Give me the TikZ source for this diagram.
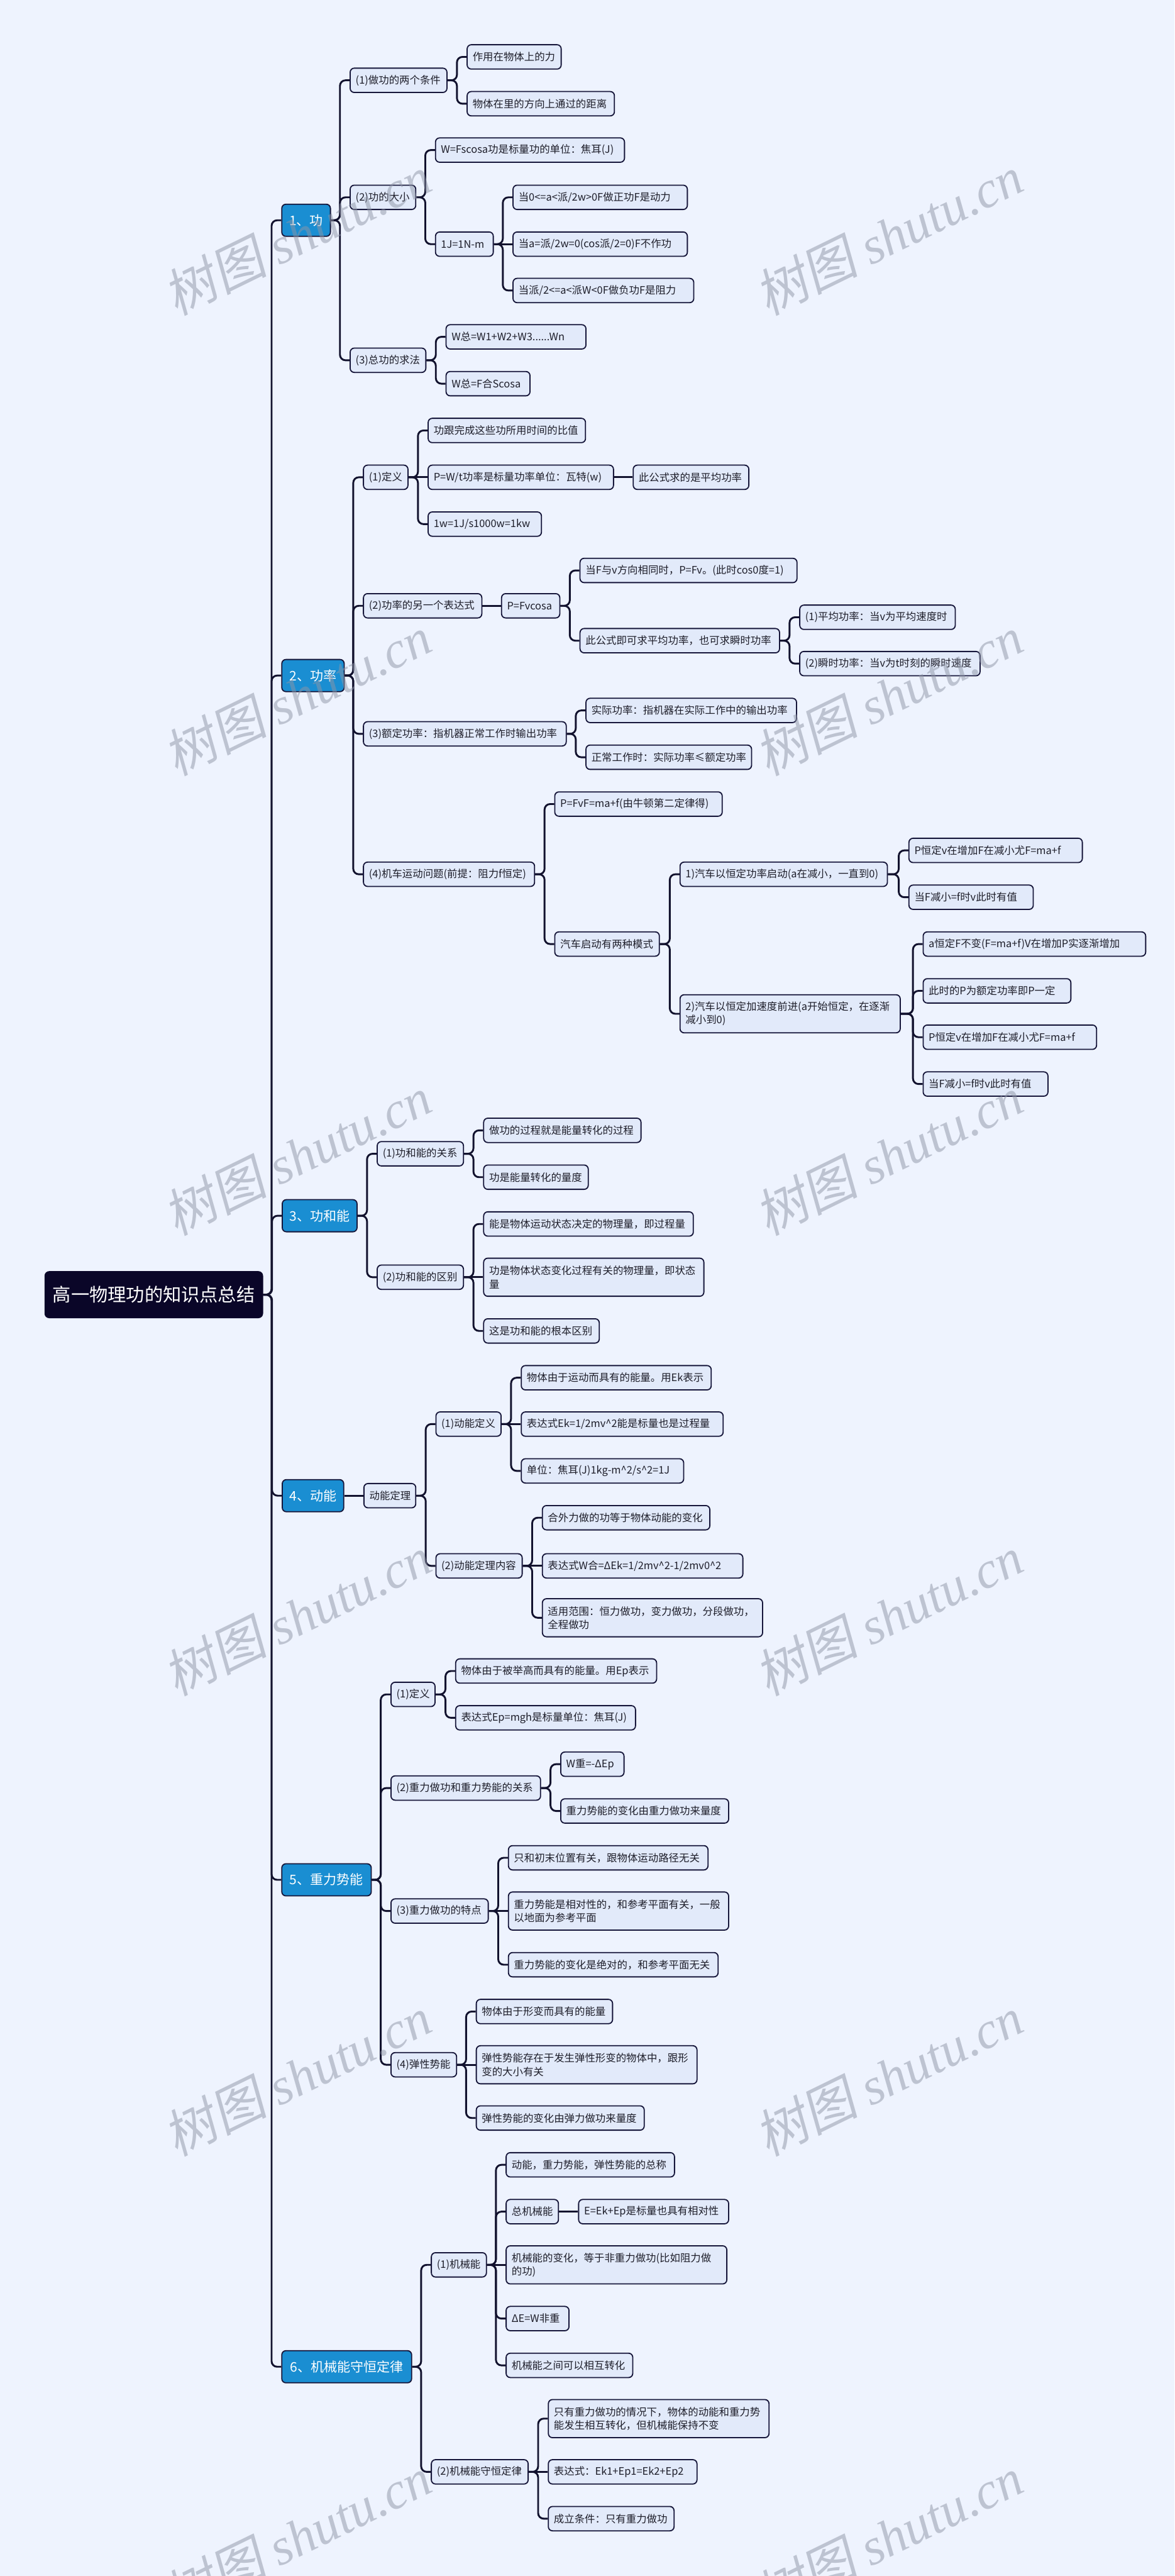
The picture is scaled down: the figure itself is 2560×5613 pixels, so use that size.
\documentclass[tikz,border=0pt]{standalone}
\usepackage{fontspec}
\setmainfont{Noto Sans CJK SC}
\newfontfamily\wmcjk{Noto Sans CJK SC}[FakeSlant=0.18]
\newfontfamily\wmlat{Liberation Serif}
\usetikzlibrary{calc}
\newlength\pxu \setlength\pxu{0.1mm}
\definecolor{bgc}{HTML}{EEF3FE}
\definecolor{lfc}{HTML}{E2EAFA}
\definecolor{bdc}{HTML}{16163A}
\definecolor{lnc}{HTML}{12122E}
\definecolor{mbc}{HTML}{1A8ED2}
\definecolor{rtc}{HTML}{0A0628}
\definecolor{txc}{HTML}{1E1E2A}
\definecolor{wmc}{HTML}{8E95A6}
\tikzset{
  leafst/.style={draw=bdc, line width=0.25mm, fill=lfc, rounded corners=0.9mm, anchor=west,
    inner xsep=1.2mm, inner ysep=0pt, minimum height=5.3mm, text=txc, align=left,
    font=\fontsize{6.4}{8.3}\selectfont},
  mainst/.style={draw=bdc, line width=0.25mm, fill=mbc, rounded corners=0.9mm, anchor=west,
    inner sep=0pt, minimum height=7mm, text=white, font=\fontsize{8.2}{10}\selectfont},
  rootst/.style={draw=rtc, line width=0.25mm, fill=rtc, rounded corners=0.9mm, anchor=west,
    inner sep=0pt, minimum height=10mm, text=white, font=\fontsize{11.4}{13}\selectfont},
  conn/.style={draw=lnc, line width=0.4mm, rounded corners=1.2mm},
  wmst/.style={rotate=26, text=wmc, opacity=0.5, inner sep=0pt, font=\fontsize{32}{32}\selectfont}
}
\newcommand\leaf[5]{\node[leafst] (#1) at (#2,#3) {\makebox[\dimexpr#4\pxu-24\pxu\relax][l]{#5}};}
\newcommand\leafii[6]{\node[leafst, minimum height=8.3mm] (#1) at (#2,#3) {\makebox[\dimexpr#4\pxu-24\pxu\relax][l]{#5}\\#6};}
\newcommand\mainnode[5]{\node[mainst, minimum width=#4\pxu] (#1) at (#2,#3) {#5};}
\newcommand\cn[2]{\draw[conn] (#1.east) -| ($(#2.west)+(-21,0)$) -- (#2.west);}
\newcommand\st[2]{\draw[conn] (#1.east) -- (#2.west);}
\begin{document}
\begin{tikzpicture}[x=0.1mm, y=-0.1mm]
\fill[bgc] (0,0) rectangle (2560,5613);
\useasboundingbox (0,0) rectangle (2560,5613);

\node[rootst, minimum width=474\pxu] (root) at (97,2821) {高一物理功的知识点总结};

% Section 1
\mainnode{m1}{613}{480}{106}{1、功}
\leaf{a1}{762}{175}{211}{(1)做功的两个条件}
\leaf{a1a}{1017}{124}{205}{作用在物体上的力}
\leaf{a1b}{1017}{226}{321}{物体在里的方向上通过的距离}
\leaf{a2}{762}{430}{143}{(2)功的大小}
\leaf{a2a}{948}{327}{412}{W=Fscosa功是标量功的单位：焦耳(J)}
\leaf{a2b}{948}{532}{126}{1J=1N-m}
\leaf{a2b1}{1117}{430}{380}{当0<=a<派/2w>0F做正功F是动力}
\leaf{a2b2}{1117}{532}{380}{当a=派/2w=0(cos派/2=0)F不作功}
\leaf{a2b3}{1117}{633}{394}{当派/2<=a<派W<0F做负功F是阻力}
\leaf{a3}{762}{785}{165}{(3)总功的求法}
\leaf{a3a}{971}{734}{305}{W总=W1+W2+W3......Wn}
\leaf{a3b}{971}{836}{183}{W总=F合Scosa}

% Section 2
\mainnode{m2}{613}{1472}{136}{2、功率}
\leaf{b1}{791}{1040}{97}{(1)定义}
\leaf{b1a}{932}{938}{343}{功跟完成这些功所用时间的比值}
\leaf{b1b}{932}{1040}{404}{P=W/t功率是标量功率单位：瓦特(w)}
\leaf{b1b1}{1379}{1040}{252}{此公式求的是平均功率}
\leaf{b1c}{932}{1142}{247}{1w=1J/s1000w=1kw}
\leaf{b2}{791}{1320}{258}{(2)功率的另一个表达式}
\leaf{b2a}{1092}{1320}{127}{P=Fvcosa}
\leaf{b2a1}{1263}{1243}{473}{当F与v方向相同时，P=Fv。(此时cos0度=1)}
\leaf{b2a2}{1263}{1396}{435}{此公式即可求平均功率，也可求瞬时功率}
\leaf{b2a2a}{1742}{1345}{339}{(1)平均功率：当v为平均速度时}
\leaf{b2a2b}{1742}{1446}{393}{(2)瞬时功率：当v为t时刻的瞬时速度}
\leaf{b3}{791}{1599}{442}{(3)额定功率：指机器正常工作时输出功率}
\leaf{b3a}{1276}{1548}{459}{实际功率：指机器在实际工作中的输出功率}
\leaf{b3b}{1276}{1650}{361}{正常工作时：实际功率≤额定功率}
\leaf{b4}{791}{1905}{373}{(4)机车运动问题(前提：阻力f恒定)}
\leaf{b4a}{1208}{1752}{365}{P=FvF=ma+f(由牛顿第二定律得)}
\leaf{b4b}{1208}{2057}{228}{汽车启动有两种模式}
\leaf{b4b1}{1481}{1905}{452}{1)汽车以恒定功率启动(a在减小，一直到0)}
\leaf{b4b1a}{1980}{1853}{378}{P恒定v在增加F在减小尤F=ma+f}
\leaf{b4b1b}{1980}{1955}{271}{当F减小=f时v此时有值}
\leafii{b4b2}{1481}{2209}{480}{2)汽车以恒定加速度前进(a开始恒定，在逐渐}{减小到0)}
\leaf{b4b2a}{2011}{2057}{485}{a恒定F不变(F=ma+f)V在增加P实逐渐增加}
\leaf{b4b2b}{2011}{2159}{322}{此时的P为额定功率即P一定}
\leaf{b4b2c}{2011}{2260}{378}{P恒定v在增加F在减小尤F=ma+f}
\leaf{b4b2d}{2011}{2362}{272}{当F减小=f时v此时有值}

% Section 3
\mainnode{m3}{614}{2649}{163}{3、功和能}
\leaf{c1}{821}{2514}{188}{(1)功和能的关系}
\leaf{c1a}{1053}{2463}{343}{做功的过程就是能量转化的过程}
\leaf{c1b}{1053}{2565}{228}{功是能量转化的量度}
\leaf{c2}{821}{2783}{188}{(2)功和能的区别}
\leaf{c2a}{1053}{2667}{457}{能是物体运动状态决定的物理量，即过程量}
\leafii{c2b}{1053}{2783}{480}{功是物体状态变化过程有关的物理量，即状态}{量}
\leaf{c2c}{1053}{2900}{252}{这是功和能的根本区别}

% Section 4
\mainnode{m4}{614}{3259}{134}{4、动能}
\leaf{d0}{792}{3259}{113}{动能定理}
\leaf{d1}{949}{3103}{142}{(1)动能定义}
\leaf{d1a}{1135}{3002}{414}{物体由于运动而具有的能量。用Ek表示}
\leaf{d1b}{1135}{3103}{440}{表达式Ek=1/2mv\textasciicircum2能是标量也是过程量}
\leaf{d1c}{1135}{3205}{354}{单位：焦耳(J)1kg-m\textasciicircum2/s\textasciicircum2=1J}
\leaf{d2}{949}{3412}{188}{(2)动能定理内容}
\leaf{d2a}{1181}{3307}{365}{合外力做的功等于物体动能的变化}
\leaf{d2b}{1181}{3412}{437}{表达式W合=ΔEk=1/2mv\textasciicircum2-1/2mv0\textasciicircum2}
\leafii{d2c}{1181}{3525}{480}{适用范围：恒力做功，变力做功，分段做功，}{全程做功}

% Section 5
\mainnode{m5}{613}{4096}{195}{5、重力势能}
\leaf{e1}{851}{3692}{96}{(1)定义}
\leaf{e1a}{992}{3641}{438}{物体由于被举高而具有的能量。用Ep表示}
\leaf{e1b}{992}{3743}{392}{表达式Ep=mgh是标量单位：焦耳(J)}
\leaf{e2}{851}{3896}{326}{(2)重力做功和重力势能的关系}
\leaf{e2a}{1221}{3844}{138}{W重=-ΔEp}
\leaf{e2b}{1221}{3946}{366}{重力势能的变化由重力做功来量度}
\leaf{e3}{851}{4164}{212}{(3)重力做功的特点}
\leaf{e3a}{1107}{4048}{435}{只和初末位置有关，跟物体运动路径无关}
\leafii{e3b}{1107}{4164}{480}{重力势能是相对性的，和参考平面有关，一般}{以地面为参考平面}
\leaf{e3c}{1107}{4281}{457}{重力势能的变化是绝对的，和参考平面无关}
\leaf{e4}{851}{4499}{143}{(4)弹性势能}
\leaf{e4a}{1037}{4383}{297}{物体由于形变而具有的能量}
\leafii{e4b}{1037}{4499}{481}{弹性势能存在于发生弹性形变的物体中，跟形}{变的大小有关}
\leaf{e4c}{1037}{4615}{366}{弹性势能的变化由弹力做功来量度}

% Section 6
\mainnode{m6}{613}{5157}{283}{6、机械能守恒定律}
\leaf{f1}{939}{4935}{120}{(1)机械能}
\leaf{f1a}{1102}{4717}{367}{动能，重力势能，弹性势能的总称}
\leaf{f1b}{1102}{4819}{114}{总机械能}
\leaf{f1b1}{1260}{4819}{327}{E=Ek+Ep是标量也具有相对性}
\leafii{f1c}{1102}{4935}{481}{机械能的变化，等于非重力做功(比如阻力做}{的功)}
\leaf{f1d}{1102}{5052}{137}{ΔE=W非重}
\leaf{f1e}{1102}{5154}{276}{机械能之间可以相互转化}
\leaf{f2}{939}{5386}{211}{(2)机械能守恒定律}
\leafii{f2a}{1194}{5270}{481}{只有重力做功的情况下，物体的动能和重力势}{能发生相互转化，但机械能保持不变}
\leaf{f2b}{1194}{5386}{324}{表达式：Ek1+Ep1=Ek2+Ep2}
\leaf{f2c}{1194}{5488}{274}{成立条件：只有重力做功}

% Connectors
\cn{root}{m1} \cn{root}{m2} \cn{root}{m3} \cn{root}{m4} \cn{root}{m5} \cn{root}{m6}
\cn{m1}{a1} \cn{m1}{a2} \cn{m1}{a3}
\cn{a1}{a1a} \cn{a1}{a1b}
\cn{a2}{a2a} \cn{a2}{a2b}
\cn{a2b}{a2b1} \st{a2b}{a2b2} \cn{a2b}{a2b3}
\cn{a3}{a3a} \cn{a3}{a3b}

\cn{m2}{b1} \cn{m2}{b2} \cn{m2}{b3} \cn{m2}{b4}
\cn{b1}{b1a} \st{b1}{b1b} \cn{b1}{b1c} \st{b1b}{b1b1}
\st{b2}{b2a} \cn{b2a}{b2a1} \cn{b2a}{b2a2}
\cn{b2a2}{b2a2a} \cn{b2a2}{b2a2b}
\cn{b3}{b3a} \cn{b3}{b3b}
\cn{b4}{b4a} \cn{b4}{b4b}
\cn{b4b}{b4b1} \cn{b4b}{b4b2}
\cn{b4b1}{b4b1a} \cn{b4b1}{b4b1b}
\cn{b4b2}{b4b2a} \cn{b4b2}{b4b2b} \cn{b4b2}{b4b2c} \cn{b4b2}{b4b2d}

\cn{m3}{c1} \cn{m3}{c2}
\cn{c1}{c1a} \cn{c1}{c1b}
\cn{c2}{c2a} \st{c2}{c2b} \cn{c2}{c2c}

\st{m4}{d0}
\cn{d0}{d1} \cn{d0}{d2}
\cn{d1}{d1a} \st{d1}{d1b} \cn{d1}{d1c}
\cn{d2}{d2a} \st{d2}{d2b} \cn{d2}{d2c}

\cn{m5}{e1} \cn{m5}{e2} \cn{m5}{e3} \cn{m5}{e4}
\cn{e1}{e1a} \cn{e1}{e1b}
\cn{e2}{e2a} \cn{e2}{e2b}
\cn{e3}{e3a} \st{e3}{e3b} \cn{e3}{e3c}
\cn{e4}{e4a} \st{e4}{e4b} \cn{e4}{e4c}

\cn{m6}{f1} \cn{m6}{f2}
\cn{f1}{f1a} \cn{f1}{f1b} \st{f1}{f1c} \cn{f1}{f1d} \cn{f1}{f1e}
\st{f1b}{f1b1}
\cn{f2}{f2a} \st{f2}{f2b} \cn{f2}{f2c}

% Watermarks
\foreach \wx in {648,1937} {
  \foreach \wy in {512,1515,2518,3521,4524,5527} {
    \node[wmst] (wm-\wx-\wy) at (\wx,\wy) {\wmcjk 树图 \wmlat\itshape shutu.cn};
  }
}
\end{tikzpicture}
\end{document}
